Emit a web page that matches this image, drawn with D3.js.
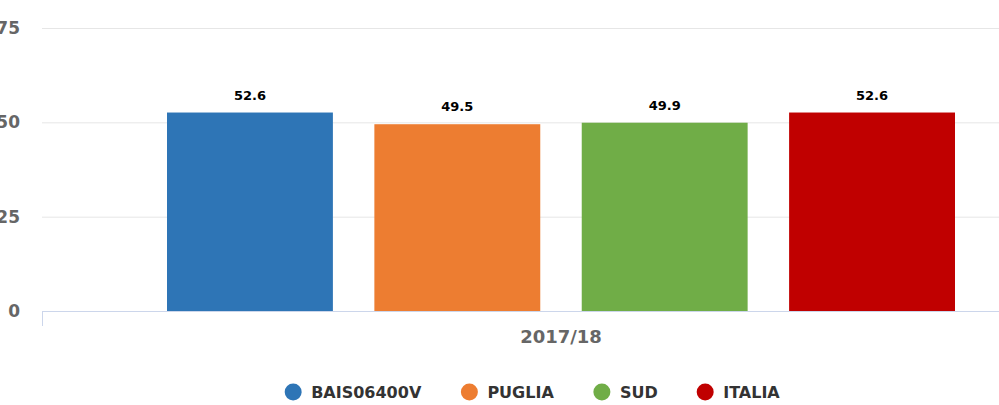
<!DOCTYPE html>
<html>
<head>
<meta charset="utf-8">
<script src="https://cdn.jsdelivr.net/npm/d3@7"></script>
<style>
  body { margin: 0; background: #fff; overflow: hidden; }
  svg text { font-family: "DejaVu Sans", "Open Sans", sans-serif; font-weight: bold; }
</style>
</head>
<body>
<svg id="chart" width="999" height="405"></svg>
<script>
// dati
const categories = ["2017/18"];
const seriesNames = ["BAIS06400V", "PUGLIA", "SUD", "ITALIA"];
const seriesValues = [52.6, 49.5, 49.9, 52.6];
const seriesColors = ["#2e75b6", "#ed7d31", "#70ad47", "#c00000"];
const yTicks = [0, 25, 50, 75];

const svg = d3.select("#chart");
const plotLeft = 42, plotRight = 1080, plotTop = 28, plotBottom = 311;

const y = d3.scaleLinear().domain([0, 75]).range([plotBottom, plotTop]);
const x = d3.scaleBand().domain(categories).range([plotLeft, plotRight]);
const xs = d3.scaleBand().domain(seriesNames)
    .range([167, 955]).paddingInner(0.2).paddingOuter(0);

// griglia
svg.append("g").selectAll("line")
    .data(yTicks.filter(d => d > 0))
    .enter().append("line")
    .attr("x1", plotLeft).attr("x2", 999)
    .attr("y1", d => y(d) + 0.5).attr("y2", d => y(d) + 0.5)
    .attr("stroke", "#e6e6e6").attr("stroke-width", 1);

// etichette asse y
svg.append("g").selectAll("text")
    .data(yTicks)
    .enter().append("text")
    .attr("x", 20).attr("y", d => y(d) + 6)
    .attr("text-anchor", "end")
    .attr("font-size", 17)
    .attr("fill", "#666")
    .text(d => d);

// barre
svg.append("g").selectAll("rect")
    .data(seriesValues)
    .enter().append("rect")
    .attr("x", (d, i) => xs(seriesNames[i]))
    .attr("y", d => y(d))
    .attr("width", xs.bandwidth())
    .attr("height", d => plotBottom - y(d))
    .attr("fill", (d, i) => seriesColors[i]);

// valori sopra le barre
svg.append("g").selectAll("text")
    .data(seriesValues)
    .enter().append("text")
    .attr("x", (d, i) => xs(seriesNames[i]) + xs.bandwidth() / 2)
    .attr("y", d => y(d) - 13)
    .attr("text-anchor", "middle")
    .attr("font-size", 13)
    .attr("fill", "#000")
    .text(d => d.toFixed(1));

// asse x
svg.append("line")
    .attr("x1", plotLeft).attr("x2", 999)
    .attr("y1", plotBottom + 0.5).attr("y2", plotBottom + 0.5)
    .attr("stroke", "#ccd6eb");
svg.append("line")
    .attr("x1", plotLeft + 0.5).attr("x2", plotLeft + 0.5)
    .attr("y1", plotBottom).attr("y2", plotBottom + 15)
    .attr("stroke", "#ccd6eb");
svg.append("g").selectAll("text")
    .data(categories)
    .enter().append("text")
    .attr("x", 561).attr("y", 343)
    .attr("text-anchor", "middle")
    .attr("font-size", 18)
    .attr("fill", "#666")
    .text(d => d);

// legenda
const legend = svg.append("g").attr("transform", "translate(0,392)");
const items = legend.selectAll("g").data(seriesNames).enter().append("g");
items.append("circle").attr("r", 8.5).attr("cx", 9).attr("cy", 0)
    .attr("fill", (d, i) => seriesColors[i]);
items.append("text").attr("x", 27).attr("y", 6)
    .attr("font-size", 16)
    .attr("fill", "#333")
    .text(d => d);
const widths = [];
items.each(function () {
    widths.push(this.getBBox().width);
});
const gap = 39;
const total = d3.sum(widths) + gap * (widths.length - 1);
let pos = 532 - total / 2;
items.each(function (d, i) {
    d3.select(this).attr("transform", "translate(" + pos + ",0)");
    pos += widths[i] + gap;
});
</script>
</body>
</html>
